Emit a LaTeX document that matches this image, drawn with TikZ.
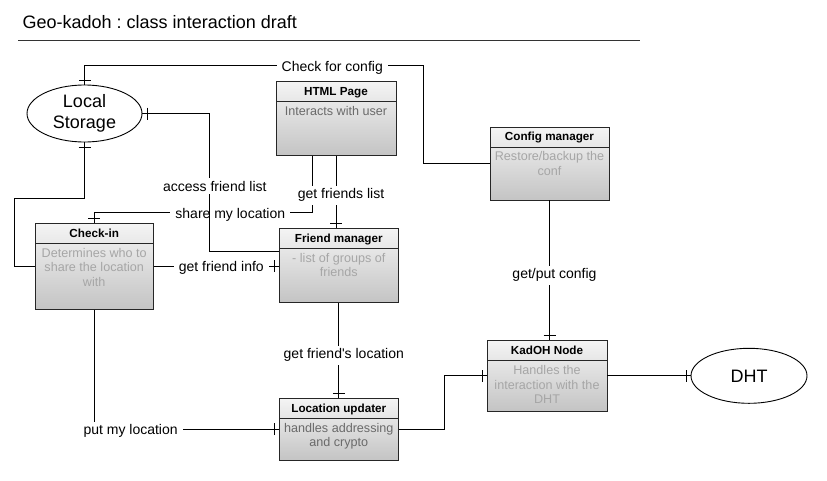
\documentclass[tikz,border=0pt]{standalone}
\usepackage{fontspec}
\setmainfont{Liberation Sans}
\newfontfamily\plainfont{Liberation Sans}
\usetikzlibrary{shapes.geometric,decorations.markings}
\definecolor{boxtop}{HTML}{F4F4F4}
\definecolor{boxbottom}{HTML}{C4C4C4}
\definecolor{bodydark}{HTML}{6A6A6A}
\definecolor{bodylight}{HTML}{A6A6A6}
\definecolor{rulegray}{HTML}{333333}
\frenchspacing

\begin{document}
\begin{tikzpicture}[
  x=1pt, y=-1pt,
  classbox/.style={rectangle, draw=black!85, line width=0.9pt, top color=boxtop, bottom color=boxbottom,
    minimum width=119pt, inner sep=0pt,
    path picture={\draw[line width=0.9pt, black!85]
      ([yshift=-20pt]path picture bounding box.north west) -- ([yshift=-20pt]path picture bounding box.north east);}},
  ctitle/.style={anchor=base, inner sep=0pt, font=\fontsize{11.7}{14}\selectfont\bfseries},
  cbody/.style={anchor=north, inner sep=0pt, align=center, font=\fontsize{12.6}{14.5}\selectfont},
  store/.style={ellipse, draw, line width=0.9pt, fill=white, inner sep=0pt, align=center,
    font=\fontsize{18}{21}\selectfont},
  lbl/.style={fill=white, inner xsep=5pt, inner ysep=3pt, xshift=5pt, yshift=-2pt, font=\plainfont\fontsize{14}{16}\selectfont},
  link/.style={line width=0.9pt},
  tickend/.style={postaction={decorate, decoration={markings,
    mark=at position -4.5pt with {\draw[line width=0.9pt] (0,-6pt) -- (0,6pt);}}}},
  tickstart/.style={postaction={decorate, decoration={markings,
    mark=at position 4.5pt with {\draw[line width=0.9pt] (0,-6pt) -- (0,6pt);}}}}
]
\useasboundingbox (0,0) rectangle (827,480);

% title
\node[anchor=west, inner sep=0pt, font=\fontsize{18}{21}\selectfont] (title) at (22.5,22) {Geo-kadoh : class interaction draft};
\draw[rulegray, line width=0.8pt] (18,40) -- (640,40);

% storages
\node[store, minimum width=115pt, minimum height=57pt] (ls) at (84.5,113.5) {Local\\Storage};

% classes
\node[classbox, minimum width=120pt, minimum height=73.5pt] (html) at (336,118.5) {};
\node[ctitle] (html-t) at ([yshift=-14.2pt]html.north) {HTML Page};
\node[cbody, text=bodydark] (html-b) at ([yshift=-25pt]html.north) {Interacts with user};

\node[classbox, minimum height=73pt] (cfg) at (549.5,163.5) {};
\node[ctitle] (cfg-t) at ([yshift=-14.2pt]cfg.north) {Config manager};
\node[cbody, text=bodylight] (cfg-b) at ([yshift=-25pt]cfg.north) {Restore/backup the\\conf};

\node[classbox, minimum width=118.3pt, minimum height=85.7pt] (ci) at (94.2,266.2) {};
\node[ctitle] (ci-t) at ([yshift=-14.2pt]ci.north) {Check-in};
\node[cbody, text=bodylight] (ci-b) at ([yshift=-25pt]ci.north) {Determines who to\\share the location\\with};

\node[classbox, minimum height=74pt] (fm) at (338.8,265.3) {};
\node[ctitle] (fm-t) at ([yshift=-14.2pt]fm.north) {Friend manager};
\node[cbody, text=bodylight] (fm-b) at ([yshift=-25pt]fm.north) {- list of groups of\\friends};

\node[classbox, minimum height=61.7pt, below of=fm, node distance=163.9pt] (lu) {};
\node[ctitle] (lu-t) at ([yshift=-14.2pt]lu.north) {Location updater};
\node[cbody, text=bodydark] (lu-b) at ([yshift=-25pt]lu.north) {handles addressing\\and crypto};

\node[classbox, minimum width=120pt, minimum height=70.3pt] (kad) at (547,375.8) {};
\node[ctitle] (kad-t) at ([yshift=-14.2pt]kad.north) {KadOH Node};
\node[cbody, text=bodylight] (kad-b) at ([yshift=-25pt]kad.north) {Handles the\\interaction with the\\DHT};

\node[store, minimum width=116pt, minimum height=55pt, right of=kad, node distance=202pt] (dht) {DHT};

% links (share first, the access line runs over its label)
\draw[link, tickend] ([xshift=-23.3pt]html.south) -- ++(0,57) -| node[lbl, pos=0.2] {share my location} (ci.north);
\draw[link, tickend] (html.south) -- node[lbl, pos=0.52] {get friends list} (html.south |- fm.north);
\draw[link, tickend] ([yshift=14pt]fm.west) -- ++(-69,0) |- node[lbl, pos=0.244] {access friend list} (ls.east);
\draw[link, tickstart] (ls.north) |- node[lbl, pos=0.858] {Check for config} ++(339,-19) |- (cfg.west);
\draw[link, tickstart] (ls.south) -- ++(0,56) -| ([xshift=-20pt]ci.west) -- (ci.west);
\draw[link, tickend] (ci.east) -- node[lbl] {get friend info} (ci.east -| fm.west);
\draw[link, tickend] (fm.south) -- node[lbl, pos=0.53] {get friend's location} (fm.south |- lu.north);
\draw[link, tickend] (ci.south) |- node[lbl, pos=0.585] {put my location} (lu.west);
\draw[link, tickend] (lu.east) -- ++(45.3,0) |- (kad.west);
\draw[link, tickend] (cfg.south) -- node[lbl, pos=0.52] {get/put config} (cfg.south |- kad.north);
\draw[link, tickend] (kad.east) -- (kad.east -| dht.west);
\end{tikzpicture}
\end{document}
